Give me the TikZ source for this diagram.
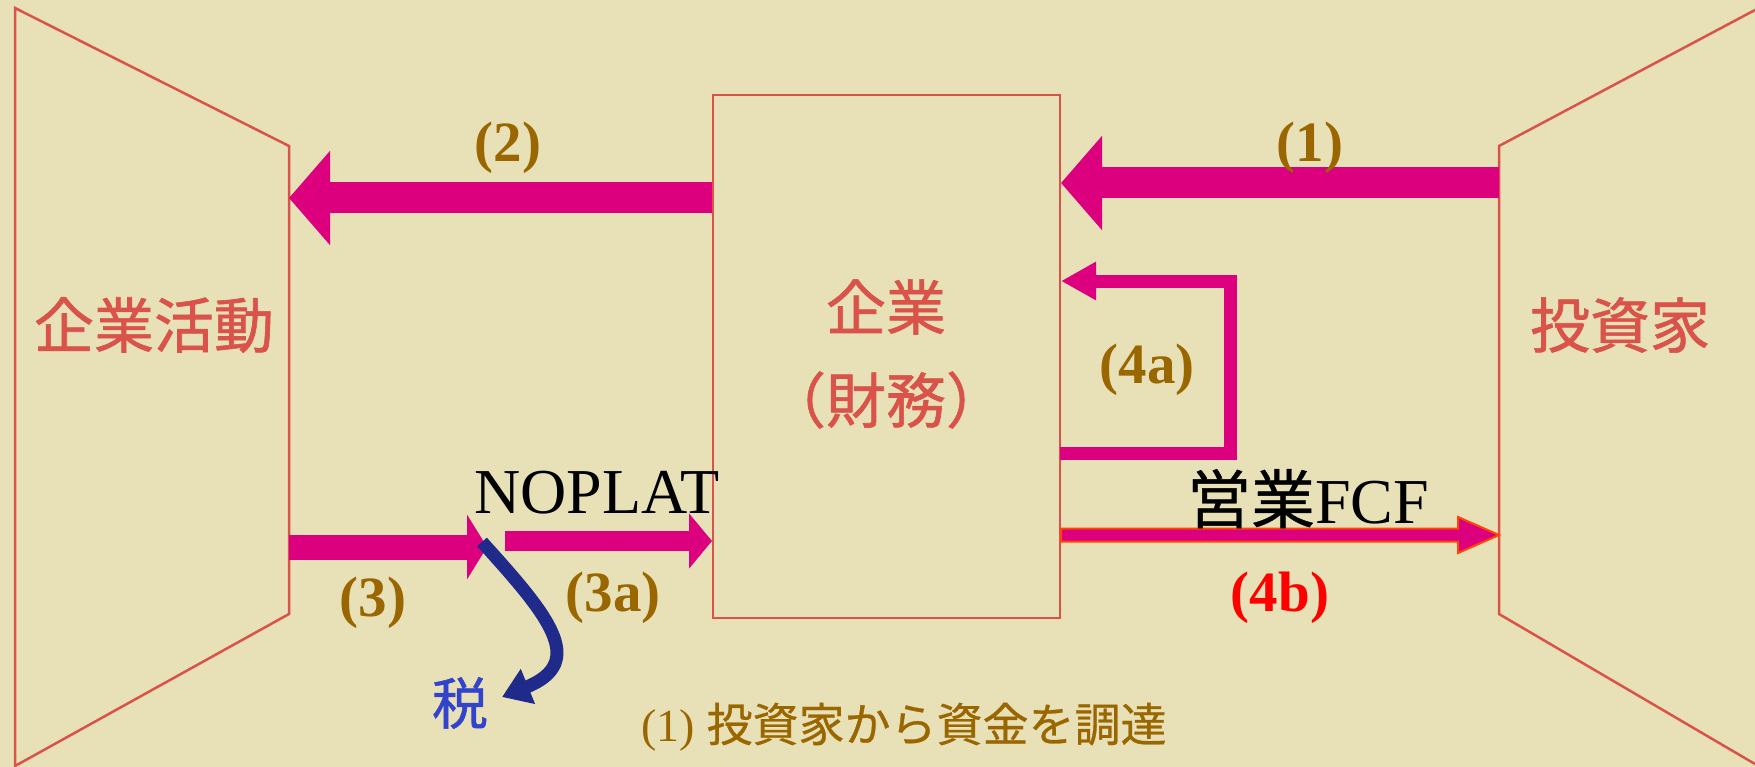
\documentclass[tikz,border=0pt]{standalone}
\usepackage{fontspec}
\setmainfont{Liberation Serif}
\newfontfamily\cjk[FakeBold=1]{Noto Sans CJK JP}
\newfontfamily\cjkb[FakeBold=0.6]{Noto Sans CJK JP}
\usetikzlibrary{arrows.meta,calc}
\definecolor{bg}{HTML}{E8E1B8}
\definecolor{edge}{HTML}{D9534A}
\definecolor{mag}{HTML}{DC007F}
\definecolor{brn}{HTML}{996600}
\definecolor{navy}{HTML}{1F2A8A}
\definecolor{taxblue}{HTML}{3344CC}
\definecolor{orng}{HTML}{FF4500}
\tikzset{
  panel/.style={draw=edge, line width=2.5pt, line join=miter},
  title/.style={text=edge, font=\cjk\fontsize{60}{66}\selectfont, inner sep=0pt},
  num/.style={text=brn, font=\bfseries\fontsize{57}{62}\selectfont, inner sep=0pt},
  big/.style={text=black, font=\fontsize{64}{70}\selectfont, inner sep=0pt, anchor=base},
  fat/.style={draw=mag, line width=31pt, -{Triangle[length=41pt,width=92pt]}},
  mid/.style={draw=mag, line width=13pt, line join=miter, -{Triangle[length=35pt,width=36pt]}},
}
\begin{document}
\begin{tikzpicture}[x=1pt,y=-1pt]
\useasboundingbox (0,0) rectangle (1755,767);
\fill[bg] (0,0) rectangle (1755,767);
% left panel
\coordinate (LTL) at (15,8);
\coordinate (LTR) at (289,146);
\coordinate (LBR) at (289,614);
\coordinate (LBL) at (15,766);
\draw[panel] (LTL) -- (LTR) -- (LBR) -- (LBL) -- cycle;
% right panel
\coordinate (RTR) at (1755,10);
\coordinate (RTL) at (1499,146);
\coordinate (RBL) at (1499,614);
\coordinate (RBR) at (1755,764);
\draw[panel] (RTR) -- (RTL) -- (RBL) -- (RBR);
% centre box
\node[draw=edge, line width=2pt, minimum width=347pt, minimum height=523pt, inner sep=0pt] (box) at (886.5,356.5) {};
% titles
\node[title] (act) at (154,325) {企業活動};
\node[title] (inv) at (1620,325) {投資家};
\node[title] (firm) at (886,307) {企業};
\node[title] (fin) at (886,400) {（財務）};
% arrow (1)
\coordinate (a1s) at (1499,183);
\draw[fat] (a1s) -- (box.east |- a1s);
\node[num] (l1) at (1310,148) {(1)};
% arrow (2)
\coordinate (a2e) at (289,198);
\draw[fat] (box.west |- a2e) -- (a2e);
\node[num] (l2) at (508,148) {(2)};
% arrow (4a)
\coordinate (a4s) at (1060,453);
\coordinate (a4c1) at (1230,453);
\coordinate (a4c2) at (1230,281);
\draw[mid] (a4s) -- (a4c1) -- (a4c2) -- (box.east |- a4c2);
\node[num] (l4a) at (1147,370) {(4a)};
% arrow (3)
\coordinate (a3s) at (289,547);
\coordinate (a3e) at (487,547);
\draw[draw=mag, line width=25pt, -{Triangle[length=20pt,width=64pt]}] (a3s) -- (a3e);
\node[num] (l3) at (373,603) {(3)};
% arrow (3a)
\coordinate (a3as) at (505,541);
\draw[draw=mag, line width=20pt, -{Triangle[length=23pt,width=54pt]}] (a3as) -- (box.west |- a3as);
\node[num] (l3a) at (613,598) {(3a)};
\node[big] (noplat) at (597,513) {NOPLAT};
% tax
\node[text=taxblue, font=\cjk\fontsize{56}{60}\selectfont, inner sep=0pt] (tax) at (460,703) {税};
\coordinate (tj) at (482,542);
\coordinate (tt) at (502,697);
\draw[navy, line width=13pt, -{Triangle[length=28pt,width=36pt]}] (tj) .. controls (548,615) and (588,662) .. (tt);
% arrow (4b)
\coordinate (a4b) at (1060,535);
\draw[fill=mag, draw=orng, line width=2pt, line join=miter] (box.east |- a4b) ++(0,-6.5) -- ++(397,0) -- ++(0,-11.5) -- ++(41,18) -- ++(-41,18) -- ++(0,-11.5) -- ++(-397,0) -- cycle;
\node[big] (fcf) at (1308,523) {{\cjkb 営業}FCF};
\node[num, text=red] (l4b) at (1280,598) {(4b)};
% caption
\node[text=brn, font=\fontsize{46}{50}\selectfont, inner sep=0pt] (cap) at (904,727) {(1) {\cjkb 投資家から資金を調達}};
\end{tikzpicture}
\end{document}
